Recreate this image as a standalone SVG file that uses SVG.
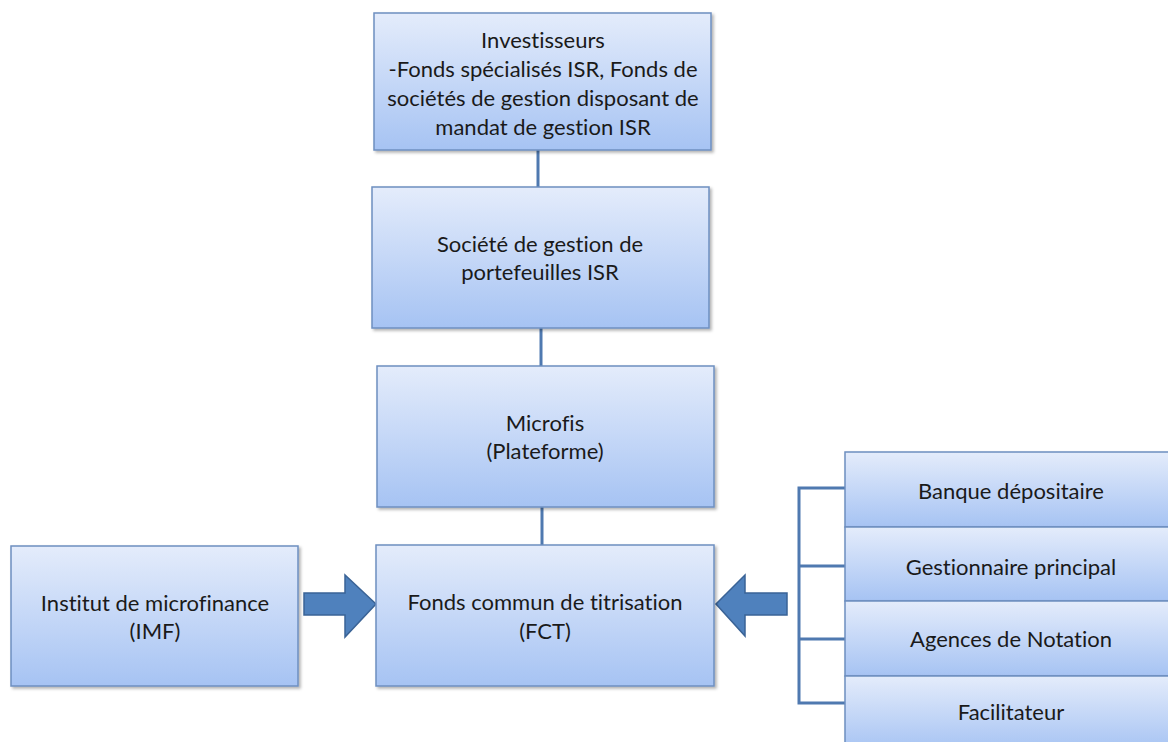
<svg xmlns="http://www.w3.org/2000/svg" width="1168" height="742" viewBox="0 0 1168 742">
<defs>
<linearGradient id="g" x1="0" y1="0" x2="0" y2="1">
<stop offset="0" stop-color="#e4ecfb"/>
<stop offset="1" stop-color="#a6c3f3"/>
</linearGradient>
<filter id="sh" x="-10%" y="-10%" width="130%" height="130%">
<feDropShadow dx="2" dy="2" stdDeviation="1.5" flood-color="#000" flood-opacity="0.3"/>
</filter>
</defs>
<style>
.box{fill:url(#g);stroke:#6d8fc0;stroke-width:1.5;filter:url(#sh)}
.t{font-family:Lato,"Open Sans","Liberation Sans",sans-serif;font-size:22px;fill:#1a1a1a;text-anchor:middle;font-variant-ligatures:none}
.ln{stroke:#4f79b0;stroke-width:3;fill:none}
.arr{fill:#4f81bd;stroke:#3a6396;stroke-width:1.5}
</style>
<rect width="1168" height="742" fill="#fff"/>
<g id="connectors">
<line class="ln" x1="538" y1="150" x2="538" y2="187"/>
<line class="ln" x1="541" y1="328" x2="541" y2="366"/>
<line class="ln" x1="542" y1="507" x2="542" y2="545"/>
<path class="ln" d="M845 488 H799 V703 H845 M799 566 H845 M799 639 H845"/>
<path class="arr" d="M304 593 H345 V575 L376 604 L345 637 V615 H304 Z"/>
<path class="arr" d="M787 593 H745 V575 L716 604 L745 636 V615 H787 Z"/>
</g>
<g id="investisseurs">
<rect class="box" x="374" y="13" width="337" height="137"/>
<text class="t" x="543" y="48">Investisseurs</text>
<text class="t" x="543" y="77">-Fonds spécialisés ISR, Fonds de</text>
<text class="t" x="543" y="106">sociétés de gestion disposant de</text>
<text class="t" x="543" y="135">mandat de gestion ISR</text>
</g>
<g id="societe">
<rect class="box" x="372" y="187" width="337" height="141"/>
<text class="t" x="540" y="252">Société de gestion de</text>
<text class="t" x="540" y="280">portefeuilles ISR</text>
</g>
<g id="microfis">
<rect class="box" x="377" y="366" width="337" height="141"/>
<text class="t" x="545" y="431">Microfis</text>
<text class="t" x="545" y="459">(Plateforme)</text>
</g>
<g id="fct">
<rect class="box" x="376" y="545" width="338" height="141"/>
<text class="t" x="545" y="610">Fonds commun de titrisation</text>
<text class="t" x="545" y="639">(FCT)</text>
</g>
<g id="imf">
<rect class="box" x="11" y="546" width="287" height="140"/>
<text class="t" x="155" y="611">Institut de microfinance</text>
<text class="t" x="155" y="639">(IMF)</text>
</g>
<g id="banque">
<rect class="box" x="845" y="452" width="330" height="75"/>
<text class="t" x="1011" y="499">Banque dépositaire</text>
</g>
<g id="gestionnaire">
<rect class="box" x="845" y="527" width="330" height="74"/>
<text class="t" x="1011" y="575">Gestionnaire principal</text>
</g>
<g id="agences">
<rect class="box" x="845" y="601" width="330" height="75"/>
<text class="t" x="1011" y="647">Agences de Notation</text>
</g>
<g id="facilitateur">
<rect class="box" x="845" y="676" width="330" height="75"/>
<text class="t" x="1011" y="720">Facilitateur</text>
</g>
</svg>
